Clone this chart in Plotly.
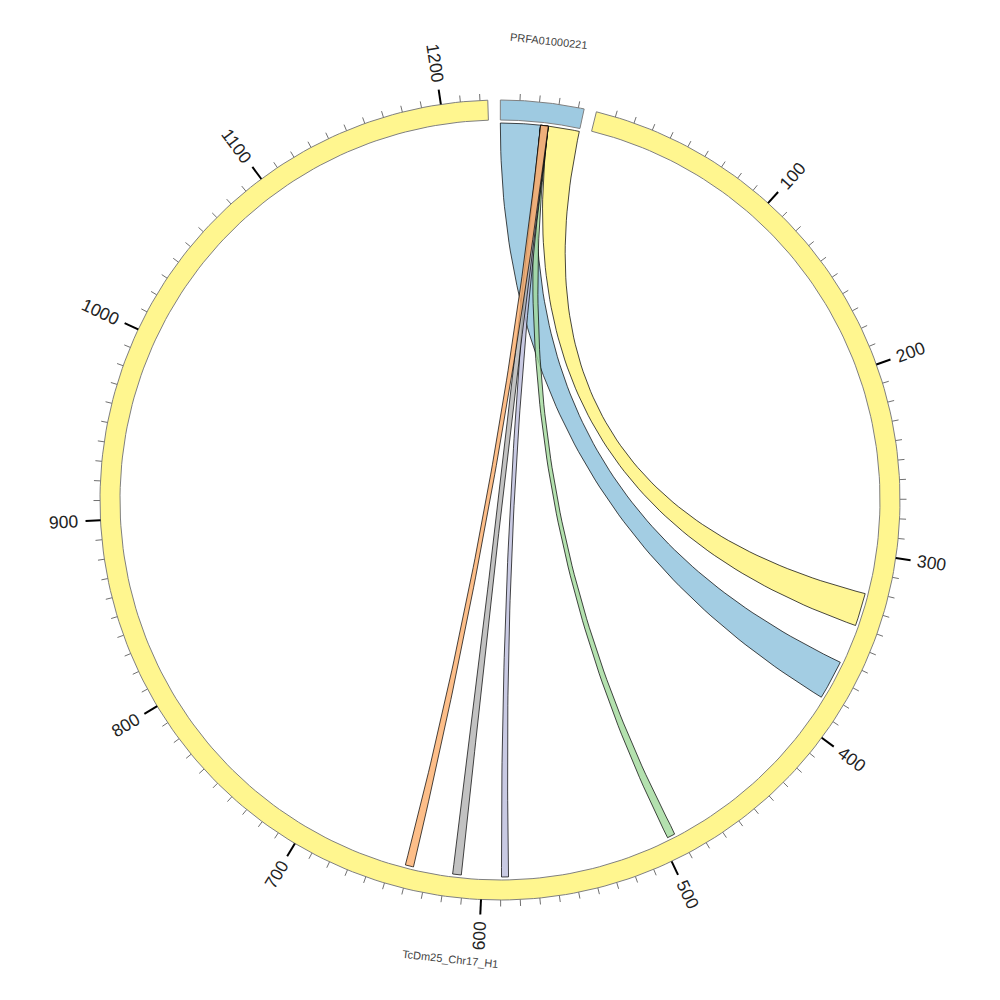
import numpy as np
import plotly.graph_objects as go

# ---------------- data ----------------
chrom_names = ["PRFA01000221", "TcDm25_Chr17_H1"]
chrom_lengths = [43, 1224]
chrom_colors = ["#9ecae1", "#fff68f"]

link_src_chrom = [0, 0, 0, 0, 0, 0]
link_src_start = [0, 26, 21.8, 21.8, 21.8, 21.8]
link_src_end = [21.8, 43, 26, 26, 26, 26]
link_tgt_chrom = [1, 1, 1, 1, 1, 1]
link_tgt_start = [361, 321.5, 492, 585.5, 611, 637.5]
link_tgt_end = [382.5, 339.5, 496.5, 589.5, 616, 642]
link_colors = ["#9ecae1", "#fff68f", "#a1d99b", "#bcbddc", "#b3b3b3", "#fdae6b"]

minor_tick_step = 10
major_tick_step = 100

# ---------------- layout params ----------------
GAP = 1.8
START = 0.05
R_OUT, R_IN, R_LINK = 400, 380, 377
total = sum(chrom_lengths)
dpu = (360 - GAP * len(chrom_lengths)) / total
offsets = []
a = START
for L in chrom_lengths:
    offsets.append(a)
    a += L * dpu + GAP


def ang(ci, pos):
    return offsets[ci] + pos * dpu


def pt(theta, r):
    t = np.radians(theta)
    return r * np.sin(t), r * np.cos(t)


fig = go.Figure()

# ---------------- links ----------------
def bez(p0, p2, n=80):
    t = np.linspace(0, 1, n)
    x = (1 - t) ** 2 * p0[0] + t ** 2 * p2[0]
    y = (1 - t) ** 2 * p0[1] + t ** 2 * p2[1]
    return list(x), list(y)


for i in range(len(link_colors)):
    s1 = ang(link_src_chrom[i], link_src_start[i])
    s2 = ang(link_src_chrom[i], link_src_end[i])
    t1 = ang(link_tgt_chrom[i], link_tgt_start[i])
    t2 = ang(link_tgt_chrom[i], link_tgt_end[i])
    xs, ys = [], []
    th = np.linspace(s1, s2, 20)
    px, py = pt(th, R_LINK)
    xs += list(px); ys += list(py)
    bx, by = bez(pt(s2, R_LINK), pt(t1, R_LINK))
    xs += bx; ys += by
    th = np.linspace(t1, t2, 20)
    px, py = pt(th, R_LINK)
    xs += list(px); ys += list(py)
    bx, by = bez(pt(t2, R_LINK), pt(s1, R_LINK))
    xs += bx; ys += by
    c = link_colors[i]
    r_, g_, b_ = int(c[1:3], 16), int(c[3:5], 16), int(c[5:7], 16)
    alpha = 0.95 if i < 2 else 0.8
    fig.add_trace(go.Scatter(x=xs, y=ys, mode="lines", fill="toself",
                             fillcolor=f"rgba({r_},{g_},{b_},{alpha})",
                             line=dict(color="rgba(0,0,0,0.9)", width=0.8),
                             hoverinfo="skip", showlegend=False))

# ---------------- ring ----------------
for ci, L in enumerate(chrom_lengths):
    a0, a1 = ang(ci, 0), ang(ci, L)
    th = np.linspace(a0, a1, 300)
    ox, oy = pt(th, R_OUT)
    ix, iy = pt(th[::-1], R_IN)
    xs = list(ox) + list(ix) + [ox[0]]
    ys = list(oy) + list(iy) + [oy[0]]
    fig.add_trace(go.Scatter(x=xs, y=ys, mode="lines", fill="toself",
                             fillcolor=chrom_colors[ci],
                             line=dict(color="#808080", width=1),
                             hoverinfo="skip", showlegend=False))

# ---------------- ticks ----------------
mx, my, Mx, My = [], [], [], []
annotations = []
for ci, L in enumerate(chrom_lengths):
    p = minor_tick_step
    while p <= L:
        th = ang(ci, p)
        if p % major_tick_step == 0:
            x0, y0 = pt(th, R_OUT)
            x1, y1 = pt(th, R_OUT + 15)
            Mx += [x0, x1, None]; My += [y0, y1, None]
            lab = str(p)
            w = len(lab) * 0.556 * 17.5
            rl = R_OUT + 22 + w / 2
            lx, ly = pt(th, rl)
            ta = th - 90 if th < 180 else th - 270
            annotations.append(dict(x=lx, y=ly, text=lab, showarrow=False,
                                    textangle=ta, xanchor="center", yanchor="middle",
                                    font=dict(family="Liberation Sans", size=17.5, color="#222222")))
        else:
            x0, y0 = pt(th, R_OUT)
            x1, y1 = pt(th, R_OUT + 6.5)
            mx += [x0, x1, None]; my += [y0, y1, None]
        p += minor_tick_step

fig.add_trace(go.Scatter(x=mx, y=my, mode="lines", line=dict(color="#707070", width=1),
                         hoverinfo="skip", showlegend=False))
fig.add_trace(go.Scatter(x=Mx, y=My, mode="lines", line=dict(color="#000000", width=2),
                         hoverinfo="skip", showlegend=False))

# ---------------- chromosome labels ----------------
for ci, L in enumerate(chrom_names):
    th = ang(ci, chrom_lengths[ci] / 2)
    lx, ly = pt(th, 462)
    ta = th if (th < 90 or th > 270) else th - 180
    annotations.append(dict(x=lx, y=ly, text=chrom_names[ci], showarrow=False,
                            textangle=ta, xanchor="center", yanchor="middle",
                            font=dict(family="Liberation Sans", size=11, color="#444444")))

fig.update_layout(
    width=1000, height=1000,
    margin=dict(l=0, r=0, t=0, b=0),
    paper_bgcolor="white", plot_bgcolor="white",
    xaxis=dict(range=[-492, 508], visible=False, fixedrange=True),
    yaxis=dict(range=[-508, 492], visible=False, fixedrange=True),
    annotations=annotations,
)

fig.write_html("out.html")
